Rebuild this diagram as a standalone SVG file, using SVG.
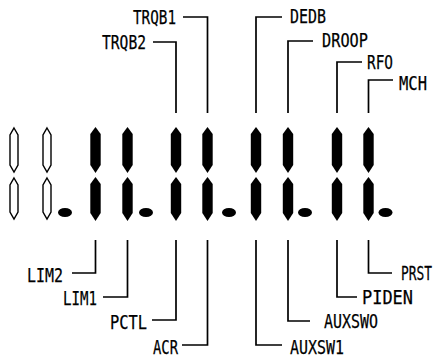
<svg xmlns="http://www.w3.org/2000/svg" width="438" height="361" viewBox="0 0 438 361">
<style>
.seg{fill:#000}
.oseg{fill:#fff;stroke:#000;stroke-width:1.4}
.dot{fill:#000}
.lbl{font-family:"DejaVu Sans Mono","Liberation Mono",monospace;font-size:19.5px;fill:#000;stroke:#000;stroke-width:0.25}
.con{fill:none;stroke:#000;stroke-width:1.7}
</style>
<defs>
<polygon id="up" points="0,127 5.2,134 5.2,165 0,173 -5.2,165 -5.2,134"/>
<polygon id="lo" points="0,177 5.2,184 5.2,213 0,221 -5.2,213 -5.2,184"/>
<polygon id="oup" points="0,128 4,135 4,165 0,172 -4,165 -4,135"/>
<polygon id="olo" points="0,178 4,185 4,212 0,219 -4,212 -4,185"/>
</defs>
<rect width="438" height="361" fill="#fff"/>
<g id="digits">
<g id="d1" class="oseg"><use href="#oup" x="14"/><use href="#olo" x="14"/></g>
<g id="d2" class="oseg"><use href="#oup" x="47"/><use href="#olo" x="47"/></g>
<g id="d3" class="seg"><use href="#up" x="95.5"/><use href="#lo" x="95.5"/></g>
<g id="d4" class="seg"><use href="#up" x="127.5"/><use href="#lo" x="127.5"/></g>
<g id="d5" class="seg"><use href="#up" x="176"/><use href="#lo" x="176"/></g>
<g id="d6" class="seg"><use href="#up" x="207.5"/><use href="#lo" x="207.5"/></g>
<g id="d7" class="seg"><use href="#up" x="256"/><use href="#lo" x="256"/></g>
<g id="d8" class="seg"><use href="#up" x="288"/><use href="#lo" x="288"/></g>
<g id="d9" class="seg"><use href="#up" x="337"/><use href="#lo" x="337"/></g>
<g id="d10" class="seg"><use href="#up" x="368.5"/><use href="#lo" x="368.5"/></g>
</g>
<g id="dots">
<ellipse class="dot" cx="65" cy="212.5" rx="7" ry="4.5"/>
<ellipse class="dot" cx="146" cy="212.5" rx="7" ry="4.5"/>
<ellipse class="dot" cx="229" cy="212.5" rx="7" ry="4.5"/>
<ellipse class="dot" cx="305" cy="212.5" rx="7" ry="4.5"/>
<ellipse class="dot" cx="385.5" cy="212.5" rx="7" ry="4.5"/>
</g>
<g id="connectors" class="con">
<path d="M183,17 H207.5 V113"/>
<path d="M153,42 H176 V113"/>
<path d="M256,113 V17 H282"/>
<path d="M288,113 V41 H313"/>
<path d="M337,113 V62 H362"/>
<path d="M368.5,113 V80 H393"/>
<path d="M72,273 H95.5 V240"/>
<path d="M103,297 H127.5 V240"/>
<path d="M152,320 H176 V240"/>
<path d="M182,345 H207.5 V240"/>
<path d="M256,240 V345 H282"/>
<path d="M288,240 V321 H310"/>
<path d="M337,240 V297 H357"/>
<path d="M368.5,240 V273 H392"/>
</g>
<g id="labels" class="lbl">
<text id="TRQB1" x="133" y="24" textLength="43" lengthAdjust="spacingAndGlyphs">TRQB1</text>
<text id="TRQB2" x="102" y="49" textLength="44" lengthAdjust="spacingAndGlyphs">TRQB2</text>
<text id="DEDB" x="290" y="23" textLength="36" lengthAdjust="spacingAndGlyphs">DEDB</text>
<text id="DROOP" x="322" y="47" textLength="46" lengthAdjust="spacingAndGlyphs">DROOP</text>
<text id="RFO" x="367" y="69" textLength="26" lengthAdjust="spacingAndGlyphs">RFO</text>
<text id="MCH" x="399" y="90" textLength="28" lengthAdjust="spacingAndGlyphs">MCH</text>
<text id="LIM2" x="27" y="282" textLength="36" lengthAdjust="spacingAndGlyphs">LIM2</text>
<text id="LIM1" x="63" y="305" textLength="34" lengthAdjust="spacingAndGlyphs">LIM1</text>
<text id="PCTL" x="110" y="329" textLength="37" lengthAdjust="spacingAndGlyphs">PCTL</text>
<text id="ACR" x="153" y="354" textLength="25" lengthAdjust="spacingAndGlyphs">ACR</text>
<text id="AUXSW1" x="290" y="354" textLength="54" lengthAdjust="spacingAndGlyphs">AUXSW1</text>
<text id="AUXSWO" x="324" y="327.5" textLength="54" lengthAdjust="spacingAndGlyphs">AUXSWO</text>
<text id="PIDEN" x="362" y="304" textLength="51" lengthAdjust="spacingAndGlyphs">PIDEN</text>
<text id="PRST" transform="translate(401,280) scale(0.66,1)">PRST</text>
</g>
</svg>
